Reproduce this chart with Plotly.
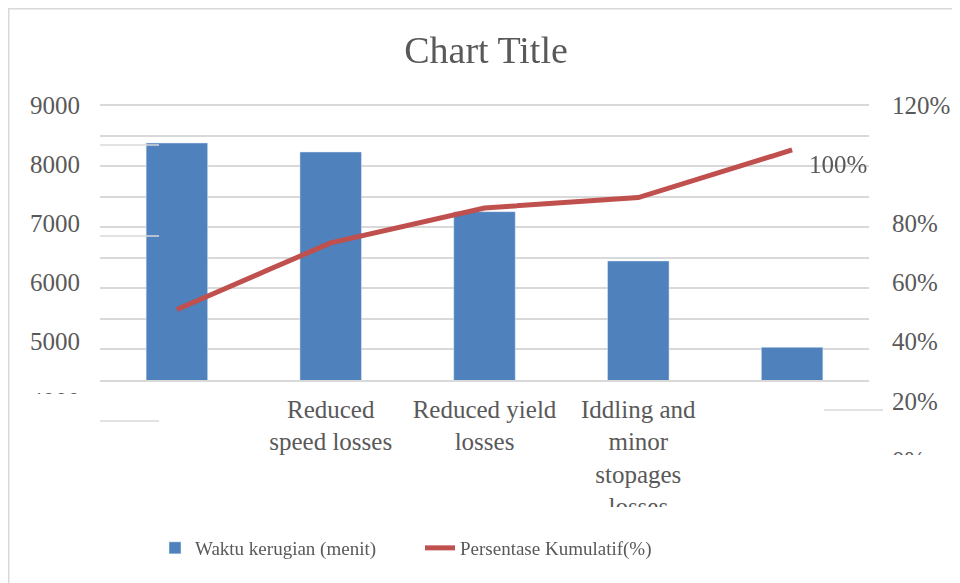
import plotly.graph_objects as go

# ---- data ----
positions = [0, 1, 2, 3, 4]
tick_labels = ["", "Reduced<br>speed losses", "Reduced yield<br>losses",
               "Iddling and<br>minor<br>stopages<br>losses", ""]
waktu_kerugian = [8358, 8206, 7197, 6364, 4905]
persentase_kumulatif = [0.509, 0.734, 0.852, 0.887, 1.048]
left_ticks = [4000, 5000, 6000, 7000, 8000, 9000]
right_ticks = [0, 0.2, 0.4, 0.6, 0.8, 1.2]

OFF = 8  # default page body margin
W, H = 960 - OFF, 583 - OFF
FONT = "Liberation Serif"
TXT = "#595959"
GRID = "#D9D9D9"

def px(x):
    return (x - OFF) / W

def py(y):
    return 1 - (y - OFF) / H

fig = go.Figure()
fig.add_trace(go.Bar(
    x=positions, y=waktu_kerugian, name="Waktu kerugian (menit)",
    marker_color="#4F81BD", width=0.4, xaxis="x", yaxis="y",
    hoverinfo="skip"))
fig.add_trace(go.Scatter(
    x=positions, y=persentase_kumulatif, name="Persentase Kumulatif(%)",
    mode="lines", line=dict(color="#C0504D", width=5), xaxis="x", yaxis="y4",
    hoverinfo="skip"))
fig.add_trace(go.Scatter(
    x=positions, y=waktu_kerugian, mode="markers", opacity=0,
    showlegend=False, xaxis="x", yaxis="y3", hoverinfo="skip"))

ymin = 4352
ymax = 9000
unit_px = 59.17 / 1000  # pixels per minute on the bar axis
fig.update_layout(
    width=W, height=H,
    margin=dict(l=0, r=0, t=0, b=0, pad=0, autoexpand=False),
    paper_bgcolor="white", plot_bgcolor="rgba(0,0,0,0)",
    font=dict(family=FONT, color=TXT, size=25),
    title=dict(text="Chart Title", x=px(486), xanchor="center",
               y=py(50), yanchor="middle", yref="container",
               font=dict(family=FONT, size=38, color=TXT)),
    xaxis=dict(domain=[px(100), px(869)], range=[-0.5, 4.5],
               tickmode="array", tickvals=positions, ticktext=tick_labels,
               showgrid=False, zeroline=False, showline=True,
               linecolor=GRID, linewidth=1.5, ticks="", automargin=False,
               tickfont=dict(family=FONT, size=25, color=TXT),
               ticklabelstandoff=6, fixedrange=True),
    yaxis=dict(domain=[py(380), py(103)],
               range=[ymin, ymax + 2 / unit_px],
               tick0=ymin, dtick=(ymax - ymin) / 9, showgrid=True,
               gridcolor=GRID, gridwidth=1.5, showticklabels=False,
               zeroline=False, ticks="", fixedrange=True, automargin=False),
    yaxis3=dict(domain=[py(460), py(105)], range=[3000, 9000],
                anchor="free", position=px(80), side="left",
                tickmode="array", tickvals=left_ticks, automargin=False,
                showgrid=False, zeroline=False, showline=False, ticks="",
                tickfont=dict(family=FONT, size=25, color=TXT),
                fixedrange=True),
    yaxis4=dict(domain=[py(460), py(105)], range=[0, 1.2],
                anchor="free", position=px(891), side="right",
                tickmode="array", tickvals=right_ticks, tickformat=".0%",
                showgrid=False, zeroline=False, showline=False, ticks="",
                tickfont=dict(family=FONT, size=25, color=TXT),
                automargin=False, fixedrange=True),
    legend=dict(orientation="h", x=px(155), xanchor="left",
                y=py(548), yanchor="middle",
                font=dict(family=FONT, size=19, color=TXT),
                entrywidth=220, entrywidthmode="pixels",
                bgcolor="rgba(0,0,0,0)"),
    showlegend=True,
)

fig.add_annotation(text="100%", xref="paper", x=px(869), xanchor="right",
                   yref="y4", y=1.0, yanchor="middle", showarrow=False,
                   font=dict(family=FONT, size=25, color=TXT))

shapes = []
# white masks that clip labels (as in the reference)
shapes.append(dict(type="rect", xref="paper", yref="paper", layer="above",
                   x0=px(15), x1=px(98), y0=py(420), y1=py(394),
                   fillcolor="white", line=dict(width=0)))
shapes.append(dict(type="rect", xref="paper", yref="paper", layer="above",
                   x0=px(875), x1=1, y0=py(480), y1=py(455),
                   fillcolor="white", line=dict(width=0)))
shapes.append(dict(type="rect", xref="paper", yref="paper", layer="above",
                   x0=px(220), x1=px(760), y0=py(535), y1=py(507),
                   fillcolor="white", line=dict(width=0)))
# stray gridline fragments
for yy in (145, 236, 421):
    shapes.append(dict(type="line", xref="paper", yref="paper", layer="above",
                       x0=px(100), x1=px(159), y0=py(yy), y1=py(yy),
                       line=dict(color=GRID, width=1.5)))
shapes.append(dict(type="line", xref="paper", yref="paper", layer="above",
                   x0=px(824), x1=px(883), y0=py(410), y1=py(410),
                   line=dict(color=GRID, width=1.5)))
# chart border (left and top), at the page edge
shapes.append(dict(type="line", xref="paper", yref="paper", layer="above",
                   x0=0.5 / W, x1=0.5 / W, y0=1, y1=0,
                   line=dict(color=GRID, width=2)))
shapes.append(dict(type="line", xref="paper", yref="paper", layer="above",
                   x0=0, x1=1, y0=1 - 0.5 / H, y1=1 - 0.5 / H,
                   line=dict(color=GRID, width=2)))
fig.update_layout(shapes=shapes)

fig.write_html("out.html", config={"displayModeBar": False})
